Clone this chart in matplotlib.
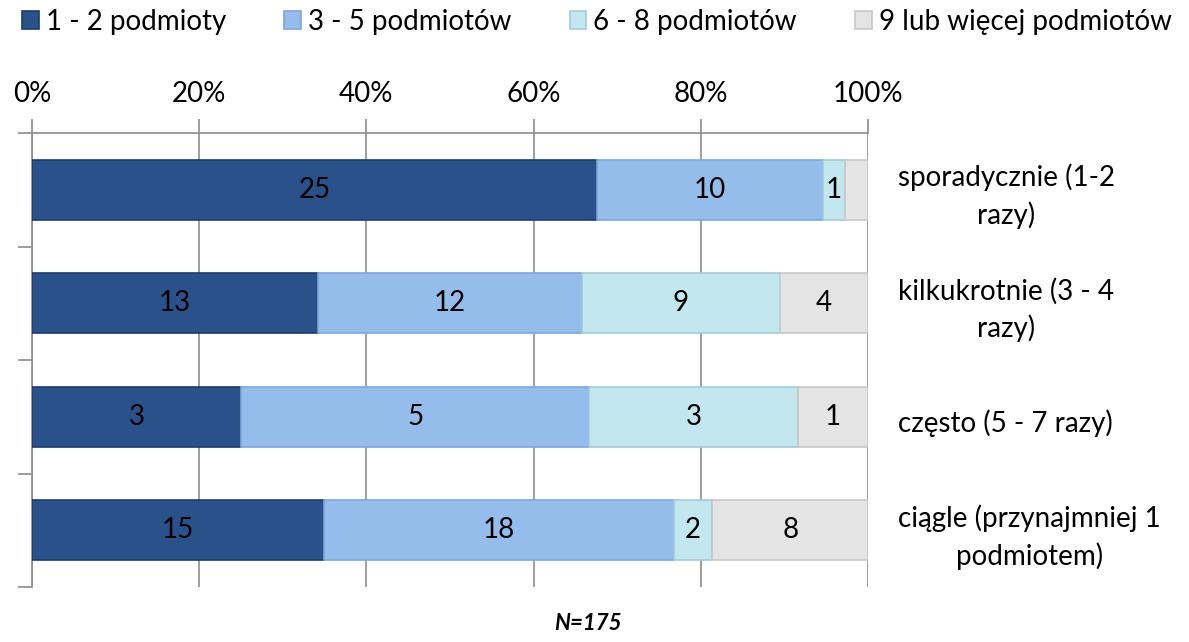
import matplotlib.pyplot as plt
import numpy as np
from matplotlib.transforms import blended_transform_factory

plt.rcParams['font.family'] = ['Lato', 'DejaVu Sans']

categories = ["sporadycznie (1-2\nrazy)", "kilkukrotnie (3 - 4\nrazy)",
              "często (5 - 7 razy)", "ciągle (przynajmniej 1\npodmiotem)"]
series = ["1 - 2 podmioty", "3 - 5 podmiotów", "6 - 8 podmiotów", "9 lub więcej podmiotów"]
counts = [
    [25, 13, 3, 15],
    [10, 12, 5, 18],
    [1, 9, 3, 2],
    [1, 4, 1, 8],
]
# last segment of the first bar has no label in the original
show_label = [
    [True, True, True, True],
    [True, True, True, True],
    [True, True, True, True],
    [False, True, True, True],
]
colors = ["#2A5189", "#95BDEC", "#C3E7EF", "#E4E4E4"]
edges = ["#1E3C68", "#7DA6D8", "#A3CCD6", "#C8C8C8"]

counts = np.array(counts, dtype=float)
totals = counts.sum(axis=0)
pct = counts / totals * 100

fig = plt.figure(figsize=(11.89, 6.42), dpi=100)
ax = fig.add_axes([32 / 1189, 1 - 587 / 642, (868 - 32) / 1189, (587 - 133) / 642])

y = np.arange(len(categories))
left = np.zeros(len(categories))
for i, name in enumerate(series):
    ax.barh(y, pct[i], left=left, height=0.53, color=colors[i], edgecolor=edges[i],
            linewidth=1.2, label=name, zorder=3)
    for j in range(len(categories)):
        if show_label[i][j]:
            ax.text(left[j] + pct[i][j] / 2, y[j], f"{int(counts[i][j])}",
                    ha='center', va='center', fontsize=20, color='black', zorder=4)
    left += pct[i]

ax.set_xlim(0, 100)
ax.set_ylim(3.5, -0.5)
ax.xaxis.tick_top()
ax.set_xticks(np.arange(0, 101, 20))
ax.set_xticklabels([f"{v}%" for v in range(0, 101, 20)], fontsize=20)
ax.tick_params(axis='x', length=10, color='#8C8C8C', width=1.2, pad=9)
ax.set_yticks(np.arange(-0.5, 4, 1))
ax.set_yticklabels([])
ax.tick_params(axis='y', length=10, color='#8C8C8C', width=1.2)
ax.grid(axis='x', color='#8C8C8C', linewidth=1.2, zorder=0)
for s in ['right', 'bottom']:
    ax.spines[s].set_visible(False)
for s in ['top', 'left']:
    ax.spines[s].set_color('#8C8C8C')
    ax.spines[s].set_linewidth(1.2)

trans = blended_transform_factory(fig.transFigure, ax.transData)
for j, cat in enumerate(categories):
    ax.text(898 / 1189, y[j] + 0.06, cat, transform=trans, ha='left', va='center',
            multialignment='center', fontsize=20, linespacing=1.45)

fig.legend(loc='upper center', bbox_to_anchor=(0.502, 1.025), ncol=4, frameon=False,
           fontsize=20, handlelength=0.6, handleheight=0.6, handletextpad=0.25,
           columnspacing=2.1)

fig.text(588 / 1189, 1 - 624 / 642, "N=175", ha='center', va='center', fontsize=16,
         fontweight='bold', fontstyle='italic')

fig.savefig("out.png", dpi=100)
